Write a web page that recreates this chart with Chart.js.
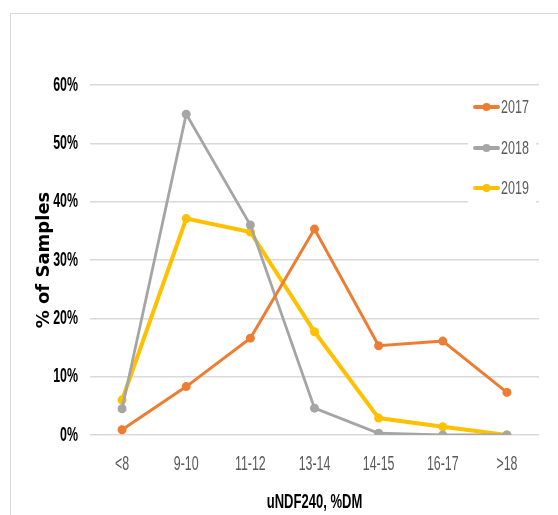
<!DOCTYPE html>
<html><head><meta charset="utf-8">
<script src="https://cdn.jsdelivr.net/npm/chart.js@4"></script>
<style>
html,body{margin:0;padding:0;background:#fff;}
#wrap{position:relative;width:558px;height:515px;overflow:hidden;}
#frame{position:absolute;left:10px;top:13px;width:600px;height:600px;border:1.5px solid #d9d9d9;box-sizing:border-box;}
canvas{position:absolute;left:0;top:0;}
</style></head>
<body>
<div id="wrap"><div id="frame"></div><canvas id="c" width="558" height="515"></canvas></div>
<script>
const categories = ['<8','9-10','11-12','13-14','14-15','16-17','>18'];
const seriesNames = ['2017','2018','2019'];
const values2017 = [0.9, 8.3, 16.6, 35.3, 15.3, 16.1, 7.3];
const values2018 = [4.5, 55.0, 36.0, 4.6, 0.3, 0.0, 0.0];
const values2019 = [6.0, 37.1, 34.8, 17.7, 2.9, 1.4, 0.0];
const yTicks = [0,10,20,30,40,50,60];
const colors = ['#ED7D31','#A5A5A5','#FFC000'];
const widths = [3, 2.8, 4];
const FONT = '"Liberation Sans",Arial,sans-serif';
const SQUEEZE = 0.62;

// Condensed text: scale glyphs horizontally around their anchor point
const condensePlugin = {
  id: 'condense',
  beforeInit(chart) {
    const ctx = chart.ctx;
    const P = CanvasRenderingContext2D.prototype;
    ctx._sx = SQUEEZE;
    ctx.fillText = function(t, x, y, mw) {
      const f = ctx._sx || 1;
      if (f === 1) return mw === undefined ? P.fillText.call(ctx, t, x, y) : P.fillText.call(ctx, t, x, y, mw);
      ctx.save();
      ctx.translate(x, y);
      ctx.scale(f, 1);
      P.fillText.call(ctx, t, 0, 0);
      ctx.restore();
    };
    ctx.measureText = function(t) {
      const m = P.measureText.call(ctx, t);
      const f = ctx._sx || 1;
      return {
        width: m.width * f,
        actualBoundingBoxAscent: m.actualBoundingBoxAscent,
        actualBoundingBoxDescent: m.actualBoundingBoxDescent,
        actualBoundingBoxLeft: m.actualBoundingBoxLeft * f,
        actualBoundingBoxRight: m.actualBoundingBoxRight * f
      };
    };
  },
  afterLayout(chart) {
    const s = chart.scales.y;
    if (!s._patched) {
      const orig = s.drawTitle.bind(s);
      s.drawTitle = function() {
        const ctx = chart.ctx;
        const prev = ctx._sx;
        ctx._sx = 1;
        orig();
        ctx._sx = prev;
      };
      s._patched = true;
    }
  }
};

const legendPlugin = {
  id: 'customLegend',
  afterDraw(chart) {
    const ctx = chart.ctx;
    ctx.save();
    const prev = ctx._sx;
    ctx._sx = 0.66;
    ctx.fillStyle = '#fff';
    ctx.fillRect(468, 92, 68, 113);
    const ys = [107, 148, 188];
    chart.data.datasets.forEach((ds, i) => {
      const y = ys[i];
      ctx.strokeStyle = ds.borderColor;
      ctx.lineWidth = 4;
      ctx.lineCap = 'round';
      ctx.beginPath(); ctx.moveTo(475, y); ctx.lineTo(498, y); ctx.stroke();
      ctx.fillStyle = ds.borderColor;
      ctx.beginPath(); ctx.arc(486.5, y, 4, 0, Math.PI*2); ctx.fill();
      ctx.fillStyle = '#595959';
      ctx.font = '19px ' + FONT;
      ctx.textBaseline = 'middle';
      ctx.textAlign = 'left';
      ctx.fillText(ds.label, 501, y + 1);
    });
    ctx._sx = prev;
    ctx.restore();
  }
};

const allValues = [values2017, values2018, values2019];
new Chart(document.getElementById('c'), {
  type: 'line',
  data: {
    labels: categories,
    datasets: seriesNames.map((n, i) => ({
      label: n,
      data: allValues[i],
      borderColor: colors[i],
      backgroundColor: colors[i],
      borderWidth: widths[i],
      pointRadius: 4.5,
      pointHoverRadius: 4.5,
      pointBorderWidth: 0,
      tension: 0,
      fill: false
    }))
  },
  options: {
    responsive: false,
    animation: false,
    events: [],
    layout: { padding: { top: 85, right: 19, left: 0, bottom: 0 } },
    plugins: { legend: { display: false }, tooltip: { enabled: false } },
    scales: {
      x: {
        offset: true,
        grid: { display: false, drawTicks: false },
        border: { display: false },
        ticks: { color: '#595959', font: { family: FONT, size: 20 }, padding: 17, maxRotation: 0, autoSkip: false },
        title: { display: true, text: 'uNDF240, %DM', color: '#000', font: { family: FONT, size: 21, weight: 'bold' }, padding: { top: 0, bottom: 0 } },
        afterFit(s) { s.height = 80; }
      },
      y: {
        min: 0, max: 60,
        afterBuildTicks(s) { s.ticks = yTicks.map(v => ({ value: v })); },
        grid: { color: '#d9d9d9', lineWidth: 1.5, drawTicks: false },
        border: { display: false },
        ticks: { color: '#000', font: { family: FONT, size: 20, weight: 'bold' }, padding: 12, callback: v => v + '%' },
        title: { display: true, text: '% of Samples', color: '#000', font: { family: '"DejaVu Sans",sans-serif', size: 18, weight: 'bold' }, padding: { top: 34, bottom: 0 } },
        afterFit(s) { s.width = 90; }
      }
    }
  },
  plugins: [condensePlugin, legendPlugin]
});
</script>
</body></html>
